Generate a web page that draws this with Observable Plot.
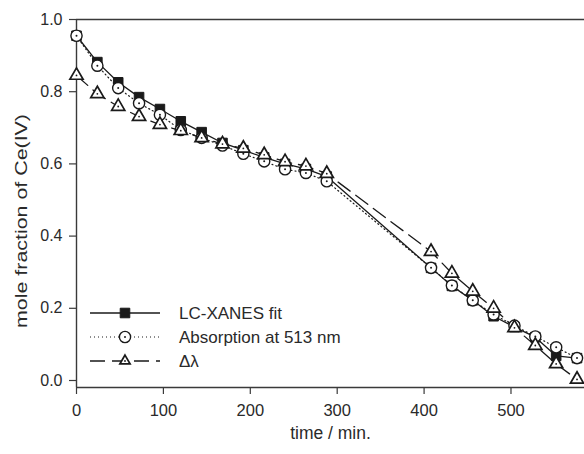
<!DOCTYPE html>
<html>
<head>
<meta charset="utf-8">
<script src="https://cdn.jsdelivr.net/npm/d3@7"></script>
<script src="https://cdn.jsdelivr.net/npm/@observablehq/plot@0.6"></script>
<style>
  html, body { margin: 0; padding: 0; background: #fff; }
  #chart svg { display: block; font-family: "Liberation Sans", Arial, sans-serif; }
</style>
</head>
<body>
<div id="chart"></div>
<script>
// ---- data ----
const time = [0, 24, 48, 72, 96, 120, 144, 168, 192, 216, 240, 264, 288, 408, 432, 456, 480, 504, 528, 552, 576];
const lcXanes = [0.955, 0.882, 0.826, 0.785, 0.752, 0.718, 0.688, 0.658, 0.638, 0.618, 0.600, 0.586, 0.565, 0.312, 0.262, 0.222, 0.178, 0.148, 0.120, 0.068, 0.062];
const absorption = [0.955, 0.872, 0.810, 0.768, 0.736, 0.694, 0.672, 0.651, 0.628, 0.607, 0.585, 0.575, 0.552, 0.312, 0.263, 0.222, 0.183, 0.152, 0.122, 0.092, 0.062];
const deltaLambda = [0.845, 0.794, 0.759, 0.731, 0.709, 0.692, 0.672, 0.655, 0.643, 0.625, 0.606, 0.594, 0.573, 0.357, 0.297, 0.247, 0.200, 0.146, 0.097, 0.046, 0.003];
const seriesNames = ["LC-XANES fit", "Absorption at 513 nm", "\u0394\u03bb"];
const xTicks = [0, 100, 200, 300, 400, 500];
const yTicks = [0.0, 0.2, 0.4, 0.6, 0.8, 1.0];
const xLabel = "time / min.";
const yLabel = "mole fraction of Ce(IV)";

const rowsLC = time.map((t, i) => ({t, v: lcXanes[i]}));
const rowsAbs = time.map((t, i) => ({t, v: absorption[i]}));
const rowsDL = time.map((t, i) => ({t, v: deltaLambda[i]}));

const ink = "#1a1a1a";
const axisInk = "#3a3a3a";
const textInk = "#2a2a2a";

const chart = Plot.plot({
  width: 584,
  height: 454,
  marginLeft: 76,
  marginRight: 0,
  marginTop: 19,
  marginBottom: 67,
  style: {fontFamily: "'Liberation Sans', Arial, sans-serif", background: "#fff", fontSize: "16px"},
  x: {domain: [0, 584.6]},
  y: {domain: [-0.0194, 1.0]},
  marks: [
    // frame lines
    Plot.ruleY([1.0], {stroke: axisInk, strokeWidth: 1.4}),
    Plot.ruleY([-0.0194], {stroke: axisInk, strokeWidth: 1.4}),
    Plot.ruleX([0], {stroke: axisInk, strokeWidth: 1.4}),
    Plot.axisX({ticks: xTicks, tickSize: 7, tickPadding: 10, fontSize: 16.5, label: null, stroke: axisInk, strokeWidth: 1.2, fill: textInk, tickFormat: d => d}),
    Plot.axisY({ticks: yTicks, tickSize: 7, tickPadding: 7, fontSize: 16, label: null, stroke: axisInk, strokeWidth: 1.2, fill: textInk, tickFormat: d3.format(".1f")}),
    Plot.text([xLabel], {frameAnchor: "bottom", dy: 51, fontSize: 17.5, fill: textInk, text: d => d}),
    // lines
    Plot.line(rowsLC, {x: "t", y: "v", stroke: ink, strokeWidth: 1.3}),
    Plot.line(rowsAbs, {x: "t", y: "v", stroke: ink, strokeWidth: 1.2, strokeDasharray: "1,3"}),
    Plot.line(rowsDL, {x: "t", y: "v", stroke: ink, strokeWidth: 1.3, strokeDasharray: "15,7"}),
    // markers
    Plot.dot(rowsLC, {x: "t", y: "v", symbol: "square", r: 5.4, fill: ink, stroke: ink, strokeWidth: 1}),
    Plot.dot(rowsAbs, {x: "t", y: "v", symbol: "circle", r: 5.6, fill: "#fff", stroke: ink, strokeWidth: 1.4}),
    Plot.dot(rowsAbs, {x: "t", y: "v", r: 1, fill: ink}),
    Plot.dot(rowsDL, {x: "t", y: "v", symbol: "triangle", r: 4.9, fill: "#fff", stroke: ink, strokeWidth: 1.7}),
    Plot.dot(rowsDL, {x: "t", y: "v", r: 0.9, fill: ink})
  ]
});

document.getElementById("chart").appendChild(chart);

const svg = d3.select(chart);

// ---- y axis title (rotated) ----
svg.append("text")
  .attr("transform", "translate(21,221) rotate(-90)")
  .attr("text-anchor", "middle")
  .attr("dy", "0.35em")
  .attr("font-size", 17)
  .attr("fill", textInk)
  .attr("textLength", 214)
  .attr("lengthAdjust", "spacingAndGlyphs")
  .text(yLabel);

// ---- legend (inside plot, lower left) ----
const lg = svg.append("g").attr("class", "legend");
const rowsY = [313, 337, 361];
const dashes = [null, "1,3", "15,7"];
const x0 = 90, x1 = 160, xm = 125, xt = 179;
seriesNames.forEach((name, i) => {
  const y = rowsY[i];
  const ln = lg.append("line").attr("x1", x0).attr("x2", x1).attr("y1", y).attr("y2", y)
    .attr("stroke", ink).attr("stroke-width", i === 1 ? 1.2 : 1.3);
  if (dashes[i]) ln.attr("stroke-dasharray", dashes[i]);
  if (i === 0) {
    lg.append("path").attr("d", d3.symbol(d3.symbolSquare, Math.PI * 5.4 * 5.4)())
      .attr("transform", `translate(${xm},${y})`).attr("fill", ink).attr("stroke", ink);
  } else if (i === 1) {
    lg.append("circle").attr("cx", xm).attr("cy", y).attr("r", 5.6)
      .attr("fill", "#fff").attr("stroke", ink).attr("stroke-width", 1.4);
    lg.append("circle").attr("cx", xm).attr("cy", y).attr("r", 1).attr("fill", ink);
  } else {
    lg.append("path").attr("d", d3.symbol(d3.symbolTriangle2, Math.PI * 4.9 * 4.9)())
      .attr("transform", `translate(${xm},${y})`).attr("fill", "#fff").attr("stroke", ink).attr("stroke-width", 1.7);
    lg.append("circle").attr("cx", xm).attr("cy", y).attr("r", 0.9).attr("fill", ink);
  }
  lg.append("text").attr("x", xt).attr("y", y).attr("dy", "0.35em")
    .attr("text-anchor", "start")
    .attr("font-size", 17).attr("fill", textInk).text(name);
});
</script>
</body>
</html>
